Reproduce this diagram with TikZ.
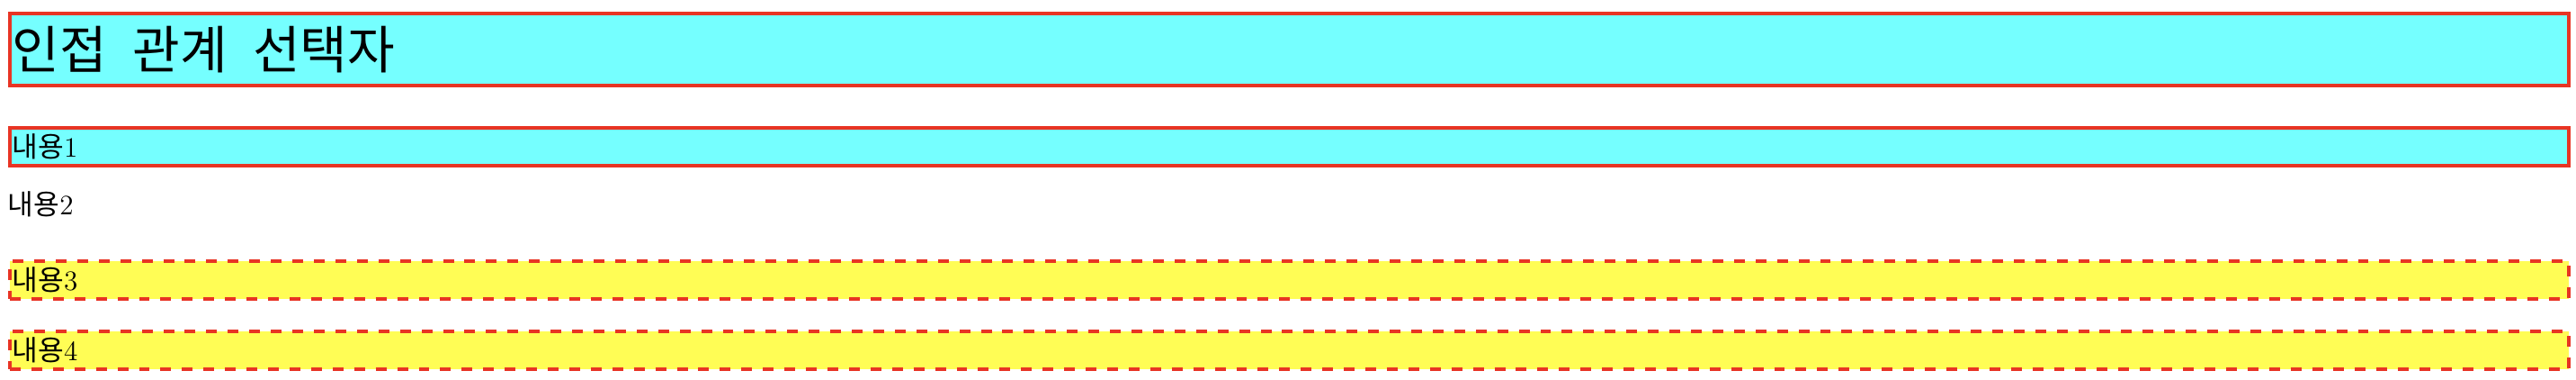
\documentclass[tikz,border=0pt]{standalone}
\usepackage{fontspec}
\newfontfamily\kr{Noto Sans CJK KR}
\usepackage{xcolor}
\definecolor{boxcyan}{RGB}{117,255,255}
\definecolor{boxred}{RGB}{232,52,36}
\definecolor{boxyellow}{RGB}{255,253,85}

\begin{document}
\begin{tikzpicture}[%
% common options for the solid boxes:
solidbox/.style = {draw=boxred, fill=boxcyan, line width=1.54pt, anchor=north west,
            align=left, text width=1092.2pt, inner xsep=1pt, inner ysep=0},
% common options for the dashed boxes:
dashbox/.style = {draw=boxred, fill=boxyellow, line width=1.54pt, dash pattern=on 4.6pt off 4.6pt,
            anchor=north west, align=left, text width=1092.2pt, inner xsep=1pt, inner ysep=0,
            minimum height=16.2pt, font=\large}]
\useasboundingbox (0,0) rectangle (1101.5pt,-162.3pt);
\node[solidbox, minimum height=30.8pt] (T0) at (3.46pt,-5pt) {\fontsize{22}{26}\kr\spaceskip=11pt 인접 관계 선택자};
\node[solidbox, minimum height=16.2pt, font=\large] (C1) at (3.46pt,-53.8pt) {{\kr 내용}1};
\node[anchor=base west, inner sep=0, font=\large] (C2) at (3.2pt,-91.9pt) {{\kr 내용}2};
\node[dashbox] (C3) at (3.46pt,-110.8pt) {{\kr 내용}3};
\node[dashbox] (C4) at (3.46pt,-140.8pt) {{\kr 내용}4};
\end{tikzpicture}
\end{document}
